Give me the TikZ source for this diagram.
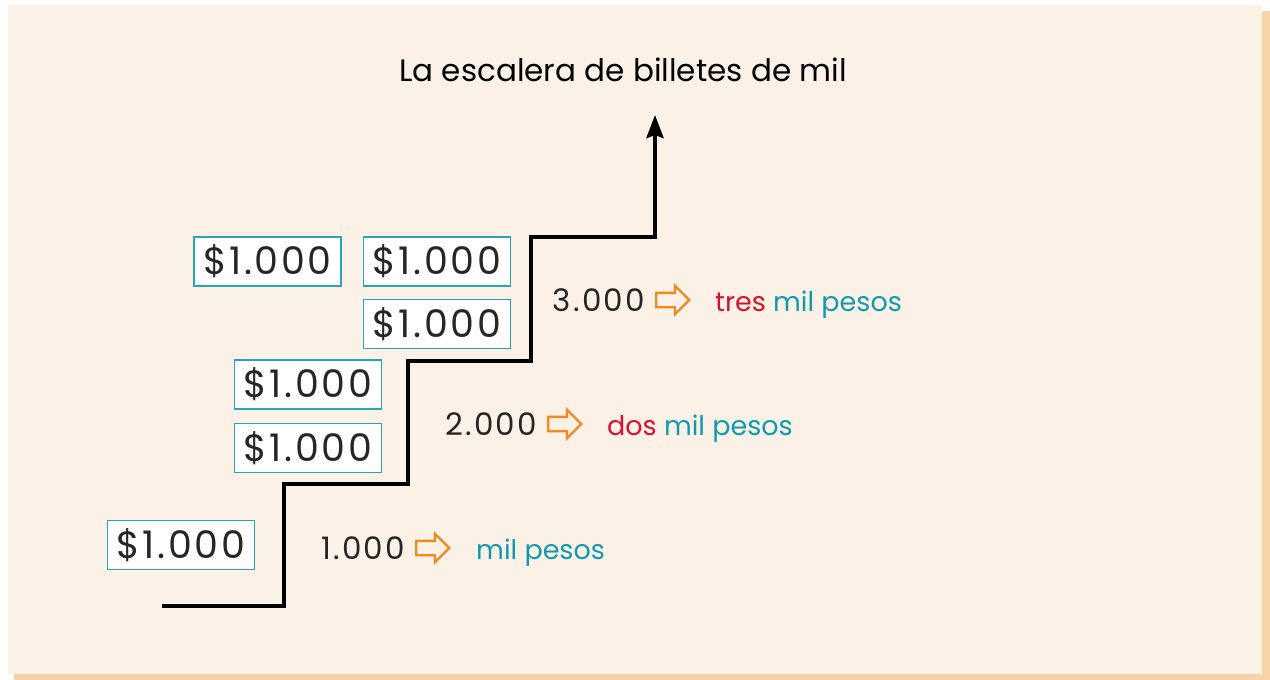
\documentclass[tikz,border=0pt]{standalone}
\usepackage{fontspec}
\setmainfont{Poppins}
\newfontfamily\spaced[LetterSpace=7]{Poppins}
\usepackage{tikz}
\usetikzlibrary{positioning}
\usetikzlibrary{shapes.arrows, arrows.meta}
\definecolor{paper}{HTML}{FCF1E7}
\definecolor{paperedge}{HTML}{F9D3A8}
\definecolor{billteal}{HTML}{2AA3B5}
\definecolor{wordteal}{HTML}{1399AE}
\definecolor{wordred}{HTML}{D5122E}
\definecolor{pointer}{HTML}{F18A1E}
\definecolor{numgray}{HTML}{262626}
\tikzstyle{bill} = [rectangle, minimum width=147pt, minimum height=49pt, inner sep=0pt, text centered, draw=billteal, line width=1.5pt, fill=white, text=numgray, font=\spaced\fontsize{38}{44}\selectfont]
\tikzstyle{amount} = [inner sep=0pt, text=numgray, font=\spaced\fontsize{31}{36}\selectfont]
\tikzstyle{words} = [inner sep=0pt, anchor=base west, font=\fontsize{27}{32}\selectfont]
\tikzstyle{pointer} = [single arrow, draw=pointer, line width=2.4pt, minimum height=33pt, inner sep=6pt, single arrow head extend=7pt]
\tikzstyle{stair} = [line width=4pt, -{Stealth[length=23pt, width=17pt, inset=3pt]}]

\begin{document}
\begin{tikzpicture}[x=1pt, y=-1pt, node distance=12pt]
    % Paper
    \useasboundingbox (0,0) rectangle (1270,680);
    \fill[paperedge] (14,11) rectangle (1270,680);
    \fill[paper] (8,5) rectangle (1262,674);
    % Title
    \node (title) at (623,70) {\fontsize{31}{36}\selectfont La escalera de billetes de mil};
    % Stair
    \coordinate (st0) at (162,606);
    \coordinate (st1) at (284,484);
    \coordinate (st2) at (408,361);
    \coordinate (st3) at (531,237);
    \coordinate (top) at (655,115);
    \draw [stair] (st0) -| (st1) -| (st2) -| (st3) -| (top);
    % Bills
    \node (billF) [bill] at (181,545) {\$1.000};
    \node (billE) [bill] at (308,448) {\$1.000};
    \node (billD) [bill, above=13pt of billE] {\$1.000};
    \node (billC) [bill] at (437,324) {\$1.000};
    \node (billB) [bill, above=12pt of billC] {\$1.000};
    \node (billA) [bill, left=21pt of billB] {\$1.000};
    % Amounts
    \node (one) [amount, anchor=east] at (405,548) {1.000};
    \node (arrowone) [pointer, right=10pt of one] {};
    \node (wordsone) [words, text=wordteal] at ([xshift=71pt]one.base east) {mil pesos};
    \node (two) [amount, anchor=east] at (537,424) {2.000};
    \node (arrowtwo) [pointer, right=10pt of two] {};
    \node (wordstwo) [words] at ([xshift=70pt]two.base east) {\textcolor{wordred}{dos} \textcolor{wordteal}{mil pesos}};
    \node (three) [amount, anchor=east] at (645,300) {3.000};
    \node (arrowthree) [pointer, right=10pt of three] {};
    \node (wordsthree) [words] at ([xshift=70pt]three.base east) {\textcolor{wordred}{tres} \textcolor{wordteal}{mil pesos}};
\end{tikzpicture}
\end{document}
